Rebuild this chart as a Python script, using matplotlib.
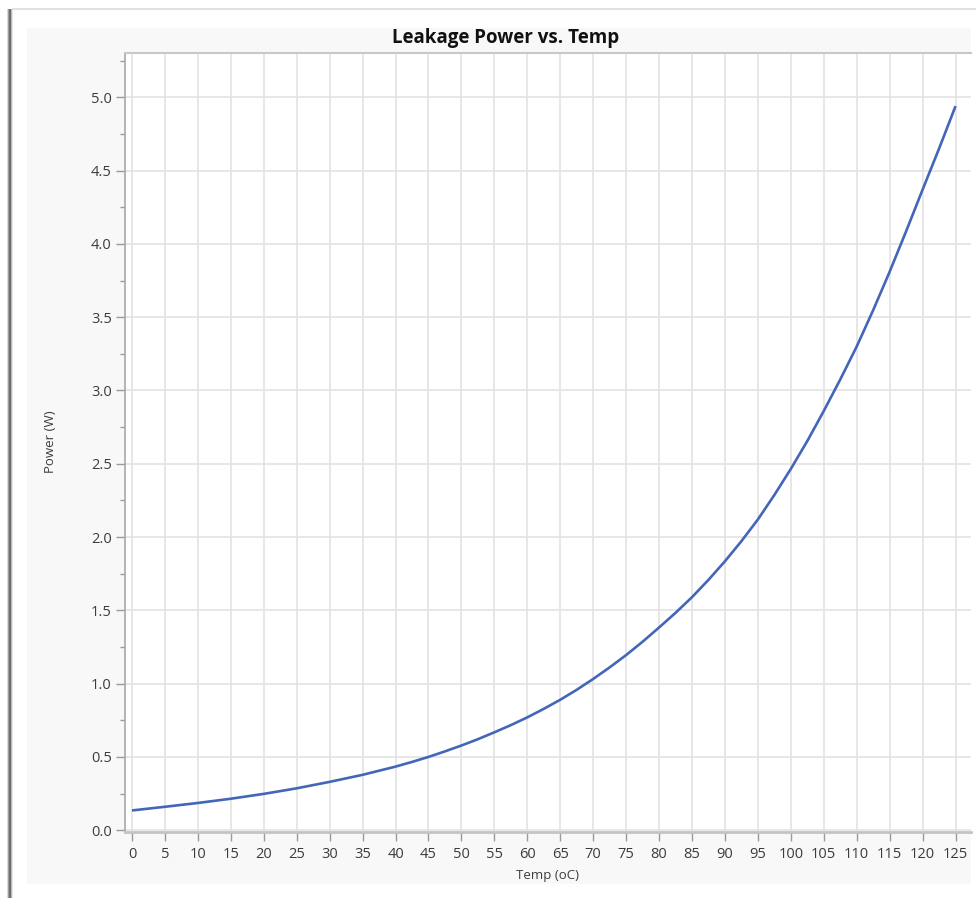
import matplotlib
matplotlib.use("Agg")
import matplotlib.pyplot as plt
from matplotlib.patches import Rectangle
from matplotlib.lines import Line2D
from matplotlib.ticker import MultipleLocator

# Data
temp_c = [0, 5, 10, 15, 20, 25, 30, 35, 40, 42.5, 45, 47.5, 50, 52.5, 55,
          57.5, 60, 62.5, 65, 67.5, 70, 72.5, 75, 77.5, 80, 82.5, 85, 87.5,
          90, 92.5, 95, 97.5, 100, 102.5, 105, 107.5, 110, 112.5, 115, 117.5,
          120, 122.5, 125]
power_w = [0.135, 0.160, 0.186, 0.215, 0.248, 0.286, 0.330, 0.378, 0.434,
           0.466, 0.500, 0.538, 0.578, 0.621, 0.668, 0.717, 0.770, 0.828,
           0.890, 0.958, 1.032, 1.111, 1.195, 1.286, 1.383, 1.483, 1.59, 1.708,
           1.835, 1.972, 2.12, 2.287, 2.465, 2.655, 2.86, 3.075, 3.30, 3.548,
           3.81, 4.086, 4.37, 4.650, 4.94]
x_ticks = list(range(0, 126, 5))
y_ticks = [0.0, 0.5, 1.0, 1.5, 2.0, 2.5, 3.0, 3.5, 4.0, 4.5, 5.0]

title = "Leakage Power vs. Temp"
x_label = "Temp (oC)"
y_label = "Power (W)"

plt.rcParams['font.family'] = ['Open Sans', 'DejaVu Sans']

W, H = 976, 898
fig = plt.figure(figsize=(W / 100, H / 100), dpi=100)
fig.patch.set_facecolor('white')

def fx(px):
    return px / W

def fy(py):
    return 1 - py / H

# window decoration: left dark border with shadow, top light line
for i, c in enumerate(['#d8d8d8', '#a0a0a0', '#6e6e6e', '#6e6e6e', '#b8b8b8', '#e6e6e6']):
    fig.add_artist(Rectangle((fx(7 + i), 0), 1 / W, fy(9), transform=fig.transFigure,
                             facecolor=c, edgecolor='none', zorder=0))
fig.add_artist(Line2D([fx(13), 1], [fy(9), fy(9)], transform=fig.transFigure,
                      color='#e2e2e2', lw=1.5, zorder=0))
# light grey panel
fig.add_artist(Rectangle((fx(27), fy(884)), fx(971) - fx(27), fy(28) - fy(884),
                         transform=fig.transFigure, facecolor='#f8f8f8',
                         edgecolor='none', zorder=0))

ax = fig.add_axes([fx(125), fy(832), fx(970.7) - fx(125), fy(53) - fy(832)])
ax.set_facecolor('white')

ax.plot(temp_c, power_w, color='#4466b8', lw=1.9, solid_joinstyle='round',
        solid_capstyle='butt', zorder=3)

ax.set_xlim(-1.06, 127.3)
ax.set_ylim(-0.012, 5.302)

ax.set_xticks(x_ticks)
ax.set_xticklabels([str(t) for t in x_ticks])
ax.set_yticks(y_ticks)
ax.set_yticklabels([f"{v:.1f}" for v in y_ticks])
ax.yaxis.set_minor_locator(MultipleLocator(0.25))

ax.grid(True, which='major', color='#e3e3e3', lw=1.2, zorder=0)
ax.set_axisbelow(True)

ax.tick_params(axis='both', which='major', direction='out', length=6.5, width=1.0,
               color='#9a9a9a', labelsize=10.5, labelcolor='#3c3c3c', pad=3)
ax.tick_params(axis='y', which='minor', direction='out', length=3.5, width=1.0,
               color='#9a9a9a')
ax.tick_params(axis='x', which='major', pad=4)

ax.spines['right'].set_visible(False)
ax.spines['left'].set_color('#a8a8a8')
ax.spines['left'].set_linewidth(1.2)
ax.spines['bottom'].set_color('#c4c4c4')
ax.spines['bottom'].set_linewidth(2.0)
ax.spines['top'].set_color('#c8c8c8')
ax.spines['top'].set_linewidth(1.5)

fig.text(fx(506), fy(38), title, ha='center', va='center', fontsize=13.5,
         fontweight='bold', color='#111111')
fig.text(fx(548), fy(876), x_label, ha='center', va='center', fontsize=9.5,
         color='#3c3c3c')
fig.text(fx(50), fy(442), y_label, ha='center', va='center', fontsize=9.5,
         color='#3c3c3c', rotation=90)

fig.savefig('out.png', dpi=100, facecolor=fig.get_facecolor())
